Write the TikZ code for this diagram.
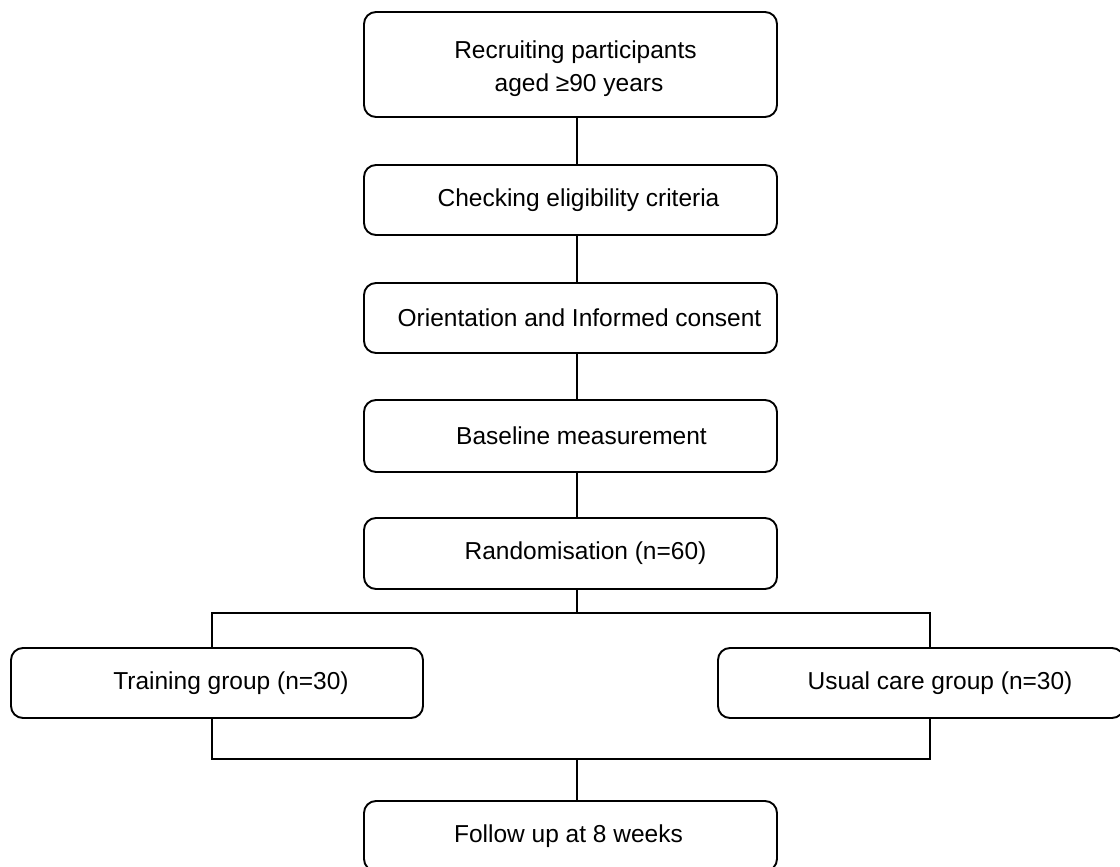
\documentclass[tikz,border=0pt]{standalone}
\usepackage{fontspec}
\setmainfont{Liberation Sans}
\newcommand{\sh}[1]{\hspace*{#1pt}}
\begin{document}
\begin{tikzpicture}[x=1pt,y=-1pt,
  box/.style={draw, line width=1.9pt, rounded corners=12pt, minimum width=413pt,
    minimum height=70pt, inner sep=0pt, align=center,
    font=\fontsize{24.5}{33}\selectfont},
  conn/.style={line width=1.2pt}]
\useasboundingbox (0,0) rectangle (1120,867);
\clip (0,0) rectangle (1120,867);
\node[box, minimum height=105pt] (b1) at (570.5,64.5) {\raisebox{-4pt}[\height][\depth]{\begin{tabular}{@{}c@{}}\sh{10}Recruiting participants\\\sh{17}aged ≥90 years\end{tabular}}};
\node[box] (b2) at (570.5,200) {\sh{16}Checking eligibility criteria};
\node[box] (b3) at (570.5,318) {\sh{18}Orientation and Informed consent};
\node[box, minimum height=72pt] (b4) at (570.5,436) {\sh{22}Baseline measurement};
\node[box, minimum height=71pt] (b5) at (570.5,553.5) {\sh{30}Randomisation (n=60)};
\node[box, minimum width=412pt] (tr) at (217,683) {\sh{28}Training group (n=30)};
\node[box, minimum width=406pt] (uc) at (921,683) {\sh{38}Usual care group (n=30)};
\node[box] (fu) at (570.5,836) {\sh{-4}Follow up at 8 weeks};
\coordinate (sx) at (577,0);
\coordinate (lx) at (212,0);
\coordinate (rx) at (930,0);
\coordinate (split) at (577,613);
\coordinate (merge) at (577,759);
\draw[conn] (b1.south -| sx) -- (b2.north -| sx);
\draw[conn] (b2.south -| sx) -- (b3.north -| sx);
\draw[conn] (b3.south -| sx) -- (b4.north -| sx);
\draw[conn] (b4.south -| sx) -- (b5.north -| sx);
\draw[conn] (b5.south -| sx) -- (split);
\draw[conn] (tr.north -| lx) -- (split -| lx) -- (split -| rx) -- (uc.north -| rx);
\draw[conn] (tr.south -| lx) -- (merge -| lx) -- (merge -| rx) -- (uc.south -| rx);
\draw[conn] (merge) -- (fu.north -| sx);
\end{tikzpicture}
\end{document}
